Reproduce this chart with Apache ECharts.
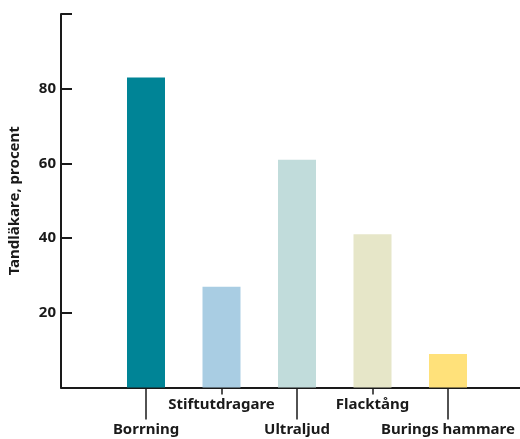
<!DOCTYPE html>
<html>
<head>
<meta charset="utf-8">
<script src="https://cdn.jsdelivr.net/npm/echarts@6/dist/echarts.min.js"></script>
<style>
html,body{margin:0;padding:0;background:#fff;}
#c{width:520px;height:439px;}
</style>
</head>
<body>
<div id="c"></div>
<script>
const categories = ['Borrning', 'Stiftutdragare', 'Ultraljud', 'Flacktång', 'Burings hammare'];
const values = [83, 27, 61, 41, 9];
const colors = ['#008496', '#a9cde3', '#c1dcdb', '#e6e6c8', '#ffe17a'];
const yTicks = [0, 20, 40, 60, 80, 100];

const FONT = 'Noto Sans';
const INK = '#1a1a1a';
const chart = echarts.init(document.getElementById('c'));

const labelStyle = {fontFamily: FONT, fontWeight: 'bold', fontSize: 15, color: INK};

chart.setOption({
  animation: false,
  backgroundColor: '#fff',
  grid: [
    {left: 61, right: 0, top: 14, bottom: 51.5, containLabel: false, outerBoundsMode: 'none'},
    {left: 108.25, right: 34.25, top: 14, bottom: 51.5, containLabel: false, outerBoundsMode: 'none'}
  ],
  xAxis: [
    {gridIndex: 0, type: 'value', min: 0, max: 1, position: 'bottom',
     axisLine: {show: true, lineStyle: {color: INK, width: 2}},
     axisTick: {show: false}, axisLabel: {show: false}, splitLine: {show: false}},
    {gridIndex: 1, type: 'category', data: categories, position: 'bottom',
     axisLine: {show: false},
     axisTick: {show: true, alignWithLabel: true, length: 32,
                interval: (i) => i % 2 === 0, lineStyle: {color: INK, width: 1.5}},
     axisLabel: Object.assign({interval: (i) => i % 2 === 0, margin: 35}, labelStyle),
     splitLine: {show: false}},
    {gridIndex: 1, type: 'category', data: categories, position: 'bottom',
     axisLine: {show: false},
     axisTick: {show: true, alignWithLabel: true, length: 7,
                interval: (i) => i % 2 === 1, lineStyle: {color: INK, width: 1.5}},
     axisLabel: Object.assign({interval: (i) => i % 2 === 1, margin: 10}, labelStyle),
     splitLine: {show: false}}
  ],
  yAxis: [
    {gridIndex: 0, type: 'value', min: yTicks[0], max: yTicks[yTicks.length - 1], interval: 20,
     position: 'left',
     axisLine: {show: true, lineStyle: {color: INK, width: 2}},
     axisTick: {show: true, inside: true, length: 11, lineStyle: {color: INK, width: 2}},
     axisLabel: Object.assign({margin: 5,
       formatter: (v) => (v === 0 || v === 100) ? '' : String(v)}, labelStyle),
     splitLine: {show: false},
     name: 'Tandläkare, procent', nameLocation: 'middle', nameGap: 39, nameRotate: 90,
     nameTextStyle: labelStyle},
    {gridIndex: 1, type: 'value', min: yTicks[0], max: yTicks[yTicks.length - 1], show: false}
  ],
  series: [{
    type: 'bar', xAxisIndex: 1, yAxisIndex: 1, barWidth: 38,
    data: values.map((v, i) => ({value: v, itemStyle: {color: colors[i]}}))
  }]
});
</script>
</body>
</html>
